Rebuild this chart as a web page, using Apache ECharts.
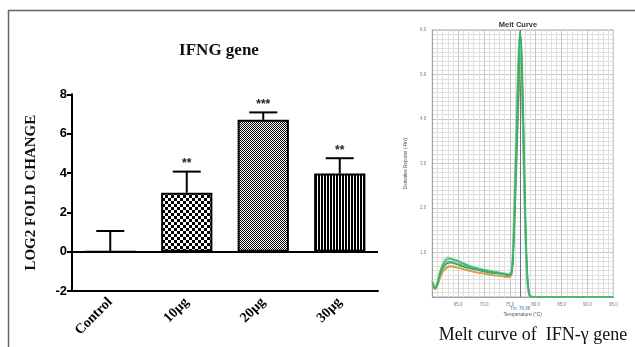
<!DOCTYPE html>
<html><head><meta charset="utf-8">
<script src="https://cdn.jsdelivr.net/npm/echarts@6/dist/echarts.min.js"></script>
<style>html,body{margin:0;padding:0;background:#fff}#c{width:635px;height:347px}</style>
</head><body><div id="c"></div>
<script>
// ---- Bar chart data (IFNG gene) ----
const categories = ['Control', '10µg', '20µg', '30µg'];
const meanValues = [0, 3.0, 6.7, 3.97];
const errorTops = [1.05, 4.07, 7.08, 4.75];
const stars = ['', '**', '***', '**'];

// ---- Melt curve data ----
const meltTemps = [60.0, 60.5, 61.0, 61.5, 62.0, 62.5, 63.0, 63.5, 64.0, 65.0, 66.0, 67.0, 68.0, 69.0, 70.0, 71.0, 72.0, 73.0, 74.0, 74.8, 75.3, 75.6, 75.9, 76.2, 76.5, 76.8, 77.0, 77.2, 77.5, 77.8, 78.1, 78.4, 78.7, 79.0, 80.0, 95.0];
const curveA = [0.34, 0.20, 0.32, 0.55, 0.70, 0.80, 0.85, 0.86, 0.84, 0.80, 0.75, 0.70, 0.66, 0.63, 0.60, 0.58, 0.56, 0.54, 0.52, 0.50, 0.56, 1.00, 2.10, 3.30, 4.70, 5.70, 6.00, 5.50, 4.10, 2.50, 1.10, 0.35, 0.07, 0.01, 0, 0];
const curveB = [0.36, 0.22, 0.30, 0.50, 0.64, 0.72, 0.76, 0.77, 0.76, 0.72, 0.68, 0.65, 0.62, 0.60, 0.57, 0.55, 0.53, 0.52, 0.50, 0.48, 0.52, 0.80, 1.60, 2.70, 3.90, 5.10, 5.70, 5.80, 4.70, 3.10, 1.50, 0.55, 0.12, 0.02, 0, 0];
const curveC = [0.30, 0.18, 0.26, 0.44, 0.58, 0.65, 0.69, 0.70, 0.69, 0.66, 0.63, 0.60, 0.57, 0.55, 0.53, 0.51, 0.49, 0.48, 0.46, 0.45, 0.50, 0.90, 1.85, 2.95, 4.20, 5.00, 5.30, 4.90, 3.70, 2.25, 0.95, 0.30, 0.06, 0.01, 0, 0];
const curveD = [0.28, 0.17, 0.25, 0.42, 0.55, 0.62, 0.66, 0.68, 0.67, 0.65, 0.62, 0.59, 0.56, 0.54, 0.52, 0.50, 0.48, 0.47, 0.45, 0.44, 0.48, 0.80, 1.60, 2.60, 3.70, 4.60, 5.10, 5.00, 4.00, 2.60, 1.20, 0.40, 0.08, 0.01, 0, 0];
const curveE = [0.38, 0.24, 0.36, 0.60, 0.76, 0.86, 0.90, 0.88, 0.86, 0.82, 0.77, 0.72, 0.68, 0.65, 0.62, 0.60, 0.58, 0.56, 0.54, 0.52, 0.62, 1.30, 2.60, 3.90, 5.10, 5.85, 5.80, 5.10, 3.60, 2.00, 0.80, 0.22, 0.04, 0.01, 0, 0];
const curveF = [0.33, 0.19, 0.29, 0.50, 0.66, 0.74, 0.79, 0.80, 0.79, 0.75, 0.71, 0.67, 0.64, 0.61, 0.59, 0.57, 0.55, 0.53, 0.51, 0.49, 0.54, 0.90, 1.85, 3.00, 4.30, 5.40, 5.90, 5.70, 4.40, 2.80, 1.30, 0.45, 0.10, 0.02, 0, 0];
const meltCurves = [
  {data: curveD, color: '#c9b04a'},
  {data: curveC, color: '#e3964a'},
  {data: curveB, color: '#2f9f5f'},
  {data: curveF, color: '#4cbb78'},
  {data: curveE, color: '#8fd6a8'},
  {data: curveA, color: '#3aae6a'}
];
const tmValue = 77.0;

// ---- patterns ----
function checker(cell) {
  const c = document.createElement('canvas');
  c.width = c.height = cell * 2;
  const g = c.getContext('2d');
  g.fillStyle = '#fff'; g.fillRect(0, 0, cell * 2, cell * 2);
  g.fillStyle = '#000'; g.fillRect(0, 0, cell, cell); g.fillRect(cell, cell, cell, cell);
  return c;
}
function stripes(black, white) {
  const c = document.createElement('canvas');
  c.width = black + white; c.height = 2;
  const g = c.getContext('2d');
  g.fillStyle = '#fff'; g.fillRect(0, 0, black + white, 2);
  g.fillStyle = '#000'; g.fillRect(0, 0, black, 2);
  return c;
}
const fills = [
  '#fff',
  {image: checker(3), repeat: 'repeat'},
  {image: checker(1), repeat: 'repeat'},
  {image: stripes(2, 1), repeat: 'repeat'}
];

const chart = echarts.init(document.getElementById('c'), null, {renderer: 'canvas'});
const serif = 'Liberation Serif';
const sans = 'Liberation Sans';

const option = {
  animation: false,
  backgroundColor: '#fff',
  title: [
    {text: 'IFNG gene', left: 214, top: 37, textAlign: 'center',
     textStyle: {fontFamily: serif, fontWeight: 'bold', fontSize: 17, color: '#111'}},
    {text: 'Melt Curve', left: 513, top: 16, textAlign: 'center',
     textStyle: {fontFamily: sans, fontWeight: 'bold', fontSize: 7.5, color: '#333'}},
    {text: 'Melt curve of  IFN-γ gene', left: 528, top: 321, textAlign: 'center',
     textStyle: {fontFamily: serif, fontWeight: 'normal', fontSize: 18, color: '#111'}}
  ],
  graphic: [
    {type: 'line', shape: {x1: 8, y1: 10.5, x2: 635, y2: 10.5}, style: {stroke: '#666', lineWidth: 1.5}},
    {type: 'line', shape: {x1: 8.5, y1: 10, x2: 8.5, y2: 347}, style: {stroke: '#666', lineWidth: 1.5}}
  ],
  grid: [
    {left: 72, top: 94.3, width: 306, height: 196.7, outerBoundsMode: 'none'},
    {left: 432.3, top: 30, width: 181, height: 267, show: true, borderColor: '#a0a0a0', borderWidth: 1, outerBoundsMode: 'none'}
  ],
  xAxis: [
    {type: 'category', gridIndex: 0, data: categories,
     axisLine: {onZero: false, lineStyle: {color: '#000', width: 2}},
     axisTick: {alignWithLabel: true, length: 6, lineStyle: {color: '#000', width: 2}},
     axisLabel: {interval: 0, rotate: 45, margin: 9, color: '#000', fontFamily: serif, fontWeight: 'bold', fontSize: 14},
     splitLine: {show: false}},
    {type: 'value', gridIndex: 1, min: 60, max: 95, interval: 5,
     name: 'Temperature (°C)', nameLocation: 'middle', nameGap: 14,
     nameTextStyle: {fontFamily: sans, fontSize: 5, color: '#555'},
     axisLine: {show: true, lineStyle: {color: '#a0a0a0', width: 1}},
     axisTick: {show: false},
     axisLabel: {showMinLabel: false, margin: 5, fontSize: 4.5, fontFamily: sans, color: '#777', formatter: v => v.toFixed(1)},
     splitLine: {show: true, lineStyle: {color: '#c8c8c8', width: 1}},
     minorTick: {show: false, splitNumber: 5},
     minorSplitLine: {show: true, lineStyle: {color: '#dedede', width: 1}}}
  ],
  yAxis: [
    {type: 'value', gridIndex: 0, min: -2, max: 8, interval: 2,
     name: 'LOG2 FOLD CHANGE', nameLocation: 'middle', nameGap: 33,
     nameTextStyle: {fontFamily: serif, fontWeight: 'bold', fontSize: 15, color: '#111'},
     axisLine: {show: true, lineStyle: {color: '#000', width: 2}},
     axisTick: {show: true, length: 5, lineStyle: {color: '#000', width: 2}},
     axisLabel: {margin: 5, color: '#000', fontFamily: sans, fontWeight: 'bold', fontSize: 13},
     splitLine: {show: false}},
    {type: 'value', gridIndex: 1, min: 0, max: 6, interval: 1,
     name: "Derivative Reporter (-Rn')", nameLocation: 'middle', nameGap: 24,
     nameTextStyle: {fontFamily: sans, fontSize: 4.5, color: '#555'},
     axisLine: {show: true, lineStyle: {color: '#a0a0a0', width: 1}},
     axisTick: {show: false},
     axisLabel: {showMinLabel: false, margin: 6, fontSize: 4.5, fontFamily: sans, color: '#777', formatter: v => v.toFixed(1)},
     splitLine: {show: true, lineStyle: {color: '#c8c8c8', width: 1}},
     minorTick: {show: false, splitNumber: 10},
     minorSplitLine: {show: true, lineStyle: {color: '#e0e0e0', width: 1}}}
  ],
  series: [
    {type: 'bar', xAxisIndex: 0, yAxisIndex: 0, barWidth: '67%',
     data: meanValues.map((v, i) => ({value: v, itemStyle: {color: fills[i]}})),
     itemStyle: {borderColor: '#000', borderWidth: 2},
     markLine: {silent: true, symbol: 'none', label: {show: false},
       lineStyle: {color: '#000', width: 2, type: 'solid'}, data: [{yAxis: 0}]}},
    {type: 'custom', xAxisIndex: 0, yAxisIndex: 0,
     data: meanValues.map((v, i) => [i, v, errorTops[i]]),
     encode: {x: 0, y: [1, 2]},
     z: 5,
     renderItem: function (params, api) {
       const i = api.value(0);
       const base = api.coord([i, api.value(1)]);
       const top = api.coord([i, api.value(2)]);
       const half = 14;
       return {type: 'group', children: [
         {type: 'line', shape: {x1: base[0], y1: base[1], x2: top[0], y2: top[1]}, style: {stroke: '#000', lineWidth: 2}},
         {type: 'line', shape: {x1: top[0] - half, y1: top[1], x2: top[0] + half, y2: top[1]}, style: {stroke: '#000', lineWidth: 2}},
         {type: 'text', x: top[0], y: top[1] - 8, style: {text: stars[params.dataIndex], align: 'center', verticalAlign: 'middle', font: 'bold 12px Liberation Sans', fill: '#222'}}
       ]};
     }},
    {type: 'line', xAxisIndex: 1, yAxisIndex: 1, data: [], z: 1,
     markLine: {silent: true, symbol: 'none', z: 1,
       lineStyle: {color: '#6a7494', width: 1, type: 'solid'},
       label: {show: true, position: 'start', distance: 9, formatter: 'Tm: 76.96', fontSize: 4.5, color: '#3b6fd0'},
       data: [{xAxis: tmValue}]}},
    ...meltCurves.map((c, k) => ({
      type: 'line', xAxisIndex: 1, yAxisIndex: 1, showSymbol: false, smooth: 0.25, z: 3,
      data: meltTemps.map((t, i) => [t, c.data[i]]),
      lineStyle: {color: c.color, width: 1.4}, itemStyle: {color: c.color}
    }))
  ]
};
chart.setOption(option);
</script>
</body></html>
